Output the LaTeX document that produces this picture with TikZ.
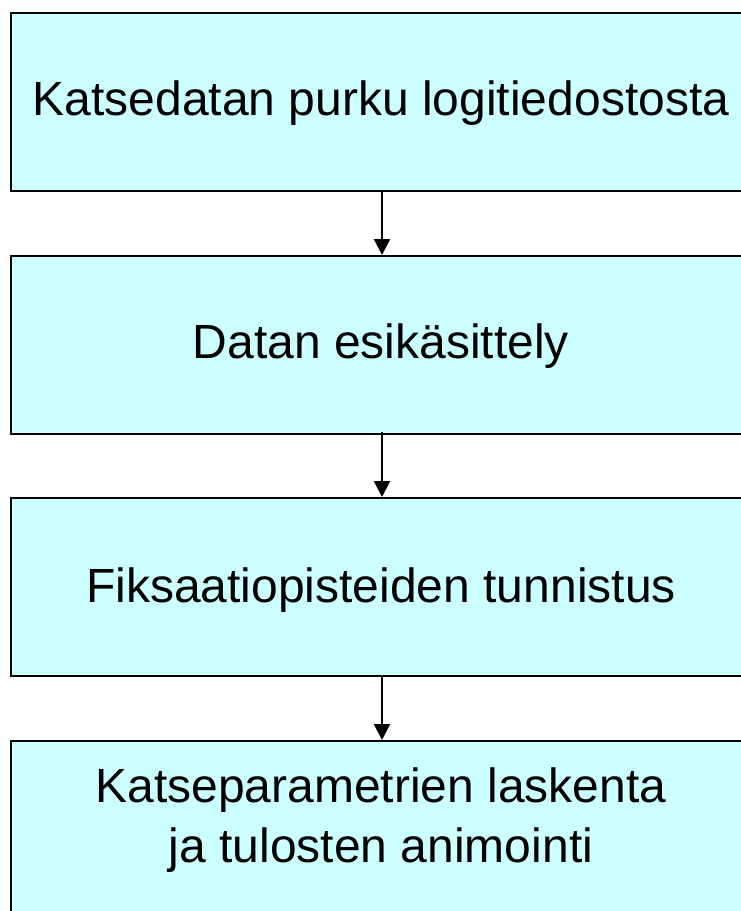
\documentclass[tikz,border=0pt]{standalone}
\usepackage{fontspec}
\setmainfont{Liberation Sans}
\usetikzlibrary{arrows.meta}
\begin{document}
\begin{tikzpicture}[x=1pt,y=-1pt,
  stepbox/.style={draw=black,line width=2pt,fill=boxcyan,minimum width=744pt,minimum height=178pt,anchor=north west,inner sep=0pt},
  txt/.style={font=\fontsize{48}{60}\selectfont,align=center,inner sep=0pt},
  conn/.style={line width=2.2pt,-{Triangle[length=16pt,width=16pt]}}]
\definecolor{boxcyan}{HTML}{CCFFFF}
\useasboundingbox (0,0) rectangle (741,911);
\begin{scope}
\clip (0,0) rectangle (741,911);
\node[stepbox] (b1) at (10,12) {};
\node[stepbox] (b2) at (10,255) {};
\node[stepbox] (b3) at (10,497) {};
\node[stepbox,minimum height=200pt] (b4) at (10,740) {};
\end{scope}
\node[txt] (t1) at (381,103) {Katsedatan purku logitiedostosta};
\node[txt] (t2) at (381,346) {Datan esikäsittely};
\node[txt] (t3) at (381,590) {Fiksaatiopisteiden tunnistus};
\node[txt] (t4) at (381,820) {Katseparametrien laskenta\\ja tulosten animointi};
\coordinate (a1) at (382,190);
\coordinate (a2) at (382,432);
\coordinate (a3) at (382,675);
\draw[conn] (a1) -- (a1 |- b2.north);
\draw[conn] (a2) -- (a2 |- b3.north);
\draw[conn] (a3) -- (a3 |- b4.north);
\end{tikzpicture}
\end{document}
